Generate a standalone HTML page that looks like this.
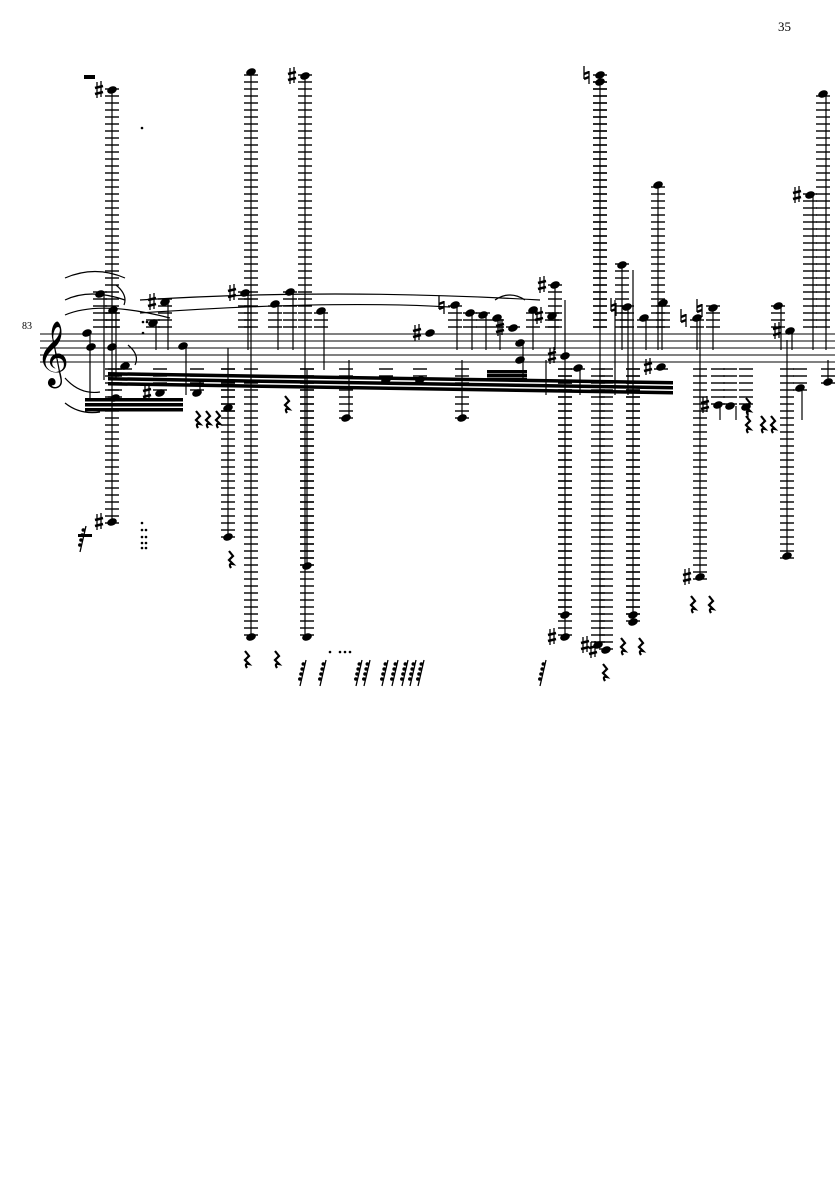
<!DOCTYPE html>
<html><head><meta charset="utf-8"><style>
html,body{margin:0;padding:0;background:#fff}
svg{display:block}
text{font-family:"Liberation Serif",serif}
</style></head><body>
<svg id="s" width="835" height="1181" viewBox="0 0 835 1181" xmlns="http://www.w3.org/2000/svg">
<text x="778" y="31" font-size="13">35</text>
<text x="22" y="329" font-size="10">83</text>
<g id="g"></g>
</svg>
<script>
var g=document.getElementById('g'),h='';
function L(x1,y1,x2,y2,w){h+='<line x1="'+x1+'" y1="'+y1+'" x2="'+x2+'" y2="'+y2+'" stroke="#000" stroke-width="'+(w||1)+'"/>';}
[334,341,348,355,362].forEach(function(y){L(40,y,835,y,0.9)});
h+='<text x="36" y="372" font-size="56" font-family="DejaVu Sans">𝄞</text>';
function ledg(x,y){
 if(y<331){for(var ly=327;ly>=y-3;ly-=7)L(x-7,ly,x+7,ly,1.4);}
 if(y>365){for(var ly=369;ly<=y+3;ly+=7)L(x-7,ly,x+7,ly,1.4);}
}
function A(x,y,t){
 if(t=='♯'){L(x+2,y-8,x+2,y+8,1.3);L(x+6,y-9,x+6,y+7,1.3);L(x,y-2,x+8,y-4,2.6);L(x,y+4,x+8,y+2,2.6);}
 else{L(x+1,y-9,x+1,y+4,1.3);L(x+6,y-4,x+6,y+9,1.3);L(x+1,y-1,x+6,y-3,2.4);L(x+1,y+4,x+6,y+2,2.4);}
}
function N(x,y,acc){ledg(x,y);
 h+='<ellipse cx="'+x+'" cy="'+y+'" rx="5" ry="3.5" transform="rotate(-22 '+x+' '+y+')" fill="#000"/>';
 if(acc)A(x-17,y,acc);
}
function S(x,y1,y2){L(x,y1,x,y2,1.2);}
var sh='♯',na='♮';
var notes=[[112,90,sh],[112,522,sh],[100,294],[87,333],[91,347],[112,347],[113,310],[125,366],[153,323],[165,302,sh],[183,346],[197,393],[160,393,sh],[115,398],
[228,537],[251,637],[251,72],[305,76,sh],[307,566],[307,637],[245,293,sh],[275,304],[290,292],[321,311],[228,408],[346,418],[462,418],
[430,333,sh],[455,305,na],[470,313],[483,315],[497,318],[513,328,sh],[520,343],[520,360],[533,310],[552,316,sh],[555,285,sh],[565,356,sh],[578,368],
[600,75,na],[600,82],[598,645,sh],[565,615],[565,637,sh],[622,265],[627,307,na],[633,615],[633,622],[606,650,sh],[644,318],[658,185],[663,303],[661,367,sh],[697,318,na],[713,308,na],[700,577,sh],[718,405,sh],[730,406],[746,407],[787,556],[778,306],[800,388],[790,331,sh],[810,195,sh],[823,94],[828,382],[420,380],[386,380]];
notes.forEach(function(n){N(n[0],n[1],n[2])});
[[112,90,522],[251,72,637],[305,76,637],[228,348,537],[307,370,566],[248,293,350],[278,304,350],[293,292,350],[324,311,370],[600,75,645],[565,300,637],[633,270,622],[622,265,350],[658,185,350],[662,303,350],[646,318,350],[700,318,577],[713,308,350],[697,318,350],[787,340,556],[813,195,350],[826,94,350],[781,306,350],[802,388,420],[828,382,360],[555,285,350],[533,310,350],[349,360,418],[462,360,418],[104,294,380],[90,333,400],[116,310,380],[156,323,350],[168,302,350],[186,346,395],[200,380,393],[457,305,350],[472,313,350],[486,315,350],[500,318,350],[523,343,380],[580,368,395],[720,405,420],[736,406,420],[748,407,420],[792,331,350],[615,300,395],[628,307,395],[546,360,395]].forEach(function(s){S(s[0],s[1],s[2])});
function B(x1,y1,x2,y2){h+='<polygon points="'+x1+','+y1+' '+x2+','+y2+' '+x2+','+(y2+3.5)+' '+x1+','+(y1+3.5)+'" fill="#000"/>';}
B(108,372,673,381);B(108,377,673,386);B(108,382,673,391);
B(85,398,183,398);B(85,403,183,403);B(85,408,183,408);
B(487,370,527,370);B(487,374,527,374);B(487,378,527,378);
function C(d){h+='<path d="'+d+'" stroke="#000" stroke-width="1.2" fill="none"/>';}
C('M65 300 Q90 288 125 300');C('M65 278 Q95 265 125 278');C('M65 315 Q100 300 170 318');
C('M140 300 Q330 288 540 300');C('M140 313 Q330 300 450 307');C('M65 403 Q80 415 100 412');C('M65 378 Q80 395 100 392');
C('M495 300 Q510 290 525 300');
function R(x,y){y-=12;h+='<path d="M'+(x+1)+' '+y+' L'+(x+5)+' '+(y+5)+' L'+(x+1)+' '+(y+9)+' L'+(x+5)+' '+(y+13)+' Q'+x+' '+(y+12)+' '+(x+3)+' '+(y+17)+'" stroke="#000" stroke-width="2.2" fill="none"/>';}
[[195,423],[205,423],[215,423],[284,408],[228,563],[244,663],[274,663],[602,676],[620,650],[638,650],[690,608],[708,608],[745,410],[760,428],[770,428],[745,428]].forEach(function(r){R(r[0],r[1])});
function Q(x,y){y-=22;L(x+6,y,x,y+26,1.3);for(var i=0;i<4;i++){var yy=y+3+i*5,xx=x+6-(yy-y)*6/26;h+='<circle cx="'+(xx-2)+'" cy="'+(yy+1)+'" r="1.8" fill="#000"/>';}}
[300,320,356,364,382,392,402,410,418,540].forEach(function(x){Q(x,682)});
Q(80,548);
h+='<rect x="84" y="75" width="11" height="4" fill="#000"/>';
h+='<rect x="78" y="534" width="14" height="3" fill="#000"/>';
[[142,523],[142,530],[146,530],[142,537],[146,537],[142,543],[146,543],[142,548],[146,548],[142,128],[143,322],[147,322],[143,333],[330,652],[340,652],[345,652],[350,652]].forEach(function(d){h+='<circle cx="'+d[0]+'" cy="'+d[1]+'" r="1.3" fill="#000"/>'});
C('M116 285 Q128 295 124 305');C('M128 345 Q140 355 135 365');
g.innerHTML=h;
</script>
</body></html>
